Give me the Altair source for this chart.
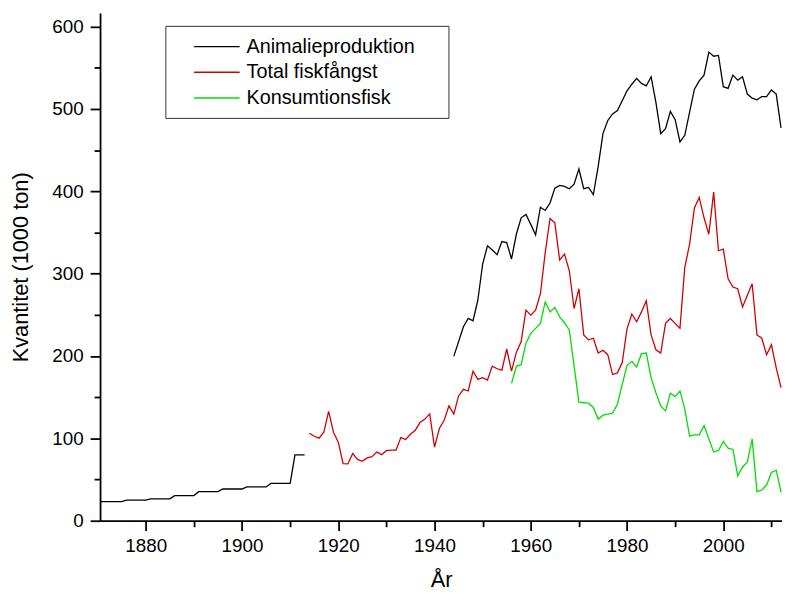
import altair as alt
import pandas as pd

# ---- data ----
anim_early_years = list(range(1870, 1914))
anim_early = [23.3, 23.3, 23.3, 23.3, 23.3, 23.3,
              25.0, 25.0, 25.0, 25.0, 25.0,
              26.5, 26.5, 26.5, 26.5, 26.5,
              30.5, 30.5, 30.5, 30.5, 30.5,
              35.3, 35.3, 35.3, 35.3, 35.3,
              38.5, 38.5, 38.5, 38.5, 38.5,
              41.0, 41.0, 41.0, 41.0, 41.0,
              45.3, 45.3, 45.3, 45.3, 45.3,
              80.0, 80.0, 80.0]

anim_late_years = list(range(1944, 2013))
anim_late = [199.5, 217.5, 235.6, 245.6, 242.8, 267.7, 311.7, 333.8, 328.6, 323.0,
             339.0, 337.7, 317.8, 347.8, 367.8, 371.9, 359.8, 347.0, 380.6, 376.7,
             385.8, 403.8, 407.1, 405.9, 403.1, 408.7, 427.2, 403.1, 404.7, 395.9,
             430.0, 470.0, 486.0, 494.0, 498.0, 510.0, 522.0, 530.0, 537.0, 531.0,
             528.0, 539.0, 508.0, 470.0, 476.0, 497.0, 487.0, 460.0, 468.0, 496.0,
             524.0, 534.0, 541.0, 569.0, 564.0, 565.0, 527.0, 525.0, 541.0, 535.0,
             539.0, 518.0, 513.0, 511.0, 515.0, 515.0, 523.0, 518.0, 477.0]

fish_years = list(range(1914, 2013))
fish_total = [106.2, 102.6, 100.2, 107.4, 132.7, 107.4, 95.4, 69.4, 69.0, 81.7,
              74.5, 72.1, 76.2, 77.8, 83.4, 80.2, 85.0, 85.8, 85.8, 101.0,
              98.6, 105.0, 109.8, 119.5, 123.4, 129.8, 89.4, 112.0, 122.0, 139.4,
              129.4, 151.5, 159.5, 157.5, 181.6, 171.6, 173.6, 170.8, 187.7, 184.5,
              182.9, 208.5, 181.6, 204.4, 217.6, 255.7, 249.6, 255.7, 275.6, 325.7,
              367.0, 361.8, 316.6, 323.8, 303.8, 257.7, 281.7, 225.6, 219.6, 221.6,
              203.6, 207.0, 201.6, 177.5, 179.5, 192.0, 233.0, 251.0, 241.6, 253.6,
              267.0, 225.6, 207.6, 203.6, 239.6, 245.6, 239.6, 233.6, 307.7, 335.8,
              379.8, 392.6, 367.8, 347.8, 399.0, 327.8, 329.8, 293.7, 283.7, 281.7,
              259.6, 273.7, 287.7, 225.6, 221.6, 201.6, 213.6, 185.6, 161.5]

food_years = list(range(1956, 2013))
food_fish = [166.7, 187.5, 189.5, 215.6, 227.6, 233.6, 239.6, 265.6, 253.6, 258.8,
             247.6, 240.4, 231.6, 188.0, 144.0, 143.5, 142.7, 137.5, 123.4, 128.2,
             129.4, 130.6, 141.5, 165.5, 188.3, 193.5, 186.7, 202.8, 203.6, 173.5,
             155.5, 139.4, 133.4, 154.7, 150.7, 157.5, 135.5, 102.6, 104.2, 104.2,
             115.4, 99.4, 83.4, 85.3, 96.2, 88.2, 86.5, 54.5, 65.3, 71.4,
             99.4, 35.3, 37.3, 43.3, 58.5, 61.3, 34.5]

series_names = ["Animalieproduktion", "Total fiskfångst", "Konsumtionsfisk"]
series_colors = ["#000000", "#d00000", "#00dd00"]

x_ticks = list(range(1880, 2011, 10))
y_ticks = list(range(0, 601, 50))

# ---- table ----
frames = [
    pd.DataFrame({"År": anim_early_years, "v": anim_early, "serie": series_names[0], "seg": "a1"}),
    pd.DataFrame({"År": anim_late_years, "v": anim_late, "serie": series_names[0], "seg": "a2"}),
    pd.DataFrame({"År": fish_years, "v": fish_total, "serie": series_names[1], "seg": "f"}),
    pd.DataFrame({"År": food_years, "v": food_fish, "serie": series_names[2], "seg": "k"}),
]
df = pd.concat(frames, ignore_index=True)

FONT = "Liberation Sans"

x_axis = alt.Axis(
    values=x_ticks,
    format="d",
    labelExpr="datum.value % 20 === 0 ? datum.label : ''",
    tickSize={"condition": {"test": "datum.value % 20 === 0", "value": 10}, "value": 6},
    grid=False,
    labelOverlap=False,
    labelFlush=False,
    labelFontSize=19,
    labelPadding=6,
    titleFontSize=22,
    titlePadding=14,
)
y_axis = alt.Axis(
    values=y_ticks,
    labelExpr="datum.value % 100 === 0 ? datum.label : ''",
    tickSize={"condition": {"test": "datum.value % 100 === 0", "value": 10}, "value": 6},
    grid=False,
    labelOverlap=False,
    labelFlush=False,
    labelFontSize=19,
    labelPadding=7,
    titleFontSize=22,
    titlePadding=20,
)

chart = (
    alt.Chart(df)
    .mark_line(strokeWidth=1.3, clip=True)
    .encode(
        x=alt.X("År:Q", scale=alt.Scale(domain=[1870.5, 2012.2], nice=False, zero=False), axis=x_axis, title="År"),
        y=alt.Y("v:Q", scale=alt.Scale(domain=[0, 616.5], nice=False), axis=y_axis, title="Kvantitet (1000 ton)"),
        color=alt.Color(
            "serie:N",
            scale=alt.Scale(domain=series_names, range=series_colors),
            legend=alt.Legend(
                orient="none", legendX=66, legendY=13,
                title=".", titleOrient="right", titleColor="white", titleFontSize=20,
                titlePadding=18,
                symbolType="M-2.3,0H2.3", symbolSize=400, symbolStrokeWidth=1.5,
                labelFontSize=20, labelFont=FONT, labelColor="black", labelLimit=400,
                strokeColor="#333333", fillColor="white", padding=10,
                rowPadding=5, symbolOffset=31, labelOffset=19,
            ),
        ),
        detail="seg:N",
    )
    .properties(width=689, height=513, padding={"left": 1, "top": 2, "right": 0, "bottom": 0})
    .configure_view(stroke=None)
    .configure_axis(
        domainColor="black", domainWidth=1.8, tickColor="black", tickWidth=1.8,
        labelColor="black", titleColor="black", labelFont=FONT, titleFont=FONT,
        titleFontWeight="normal",
    )
)

chart.save("out.html", embed_options={"renderer": "svg", "actions": False})
